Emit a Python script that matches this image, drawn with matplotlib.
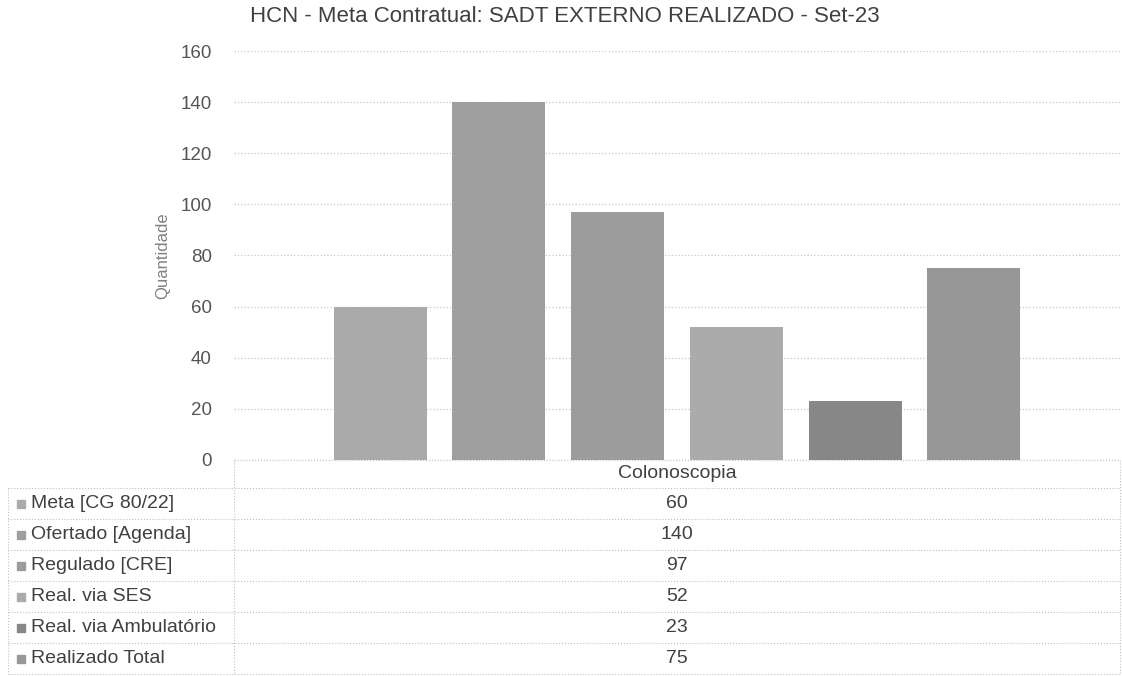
import matplotlib.pyplot as plt
import numpy as np

plt.rcParams['font.family'] = ['Liberation Sans', 'DejaVu Sans']

# dados
series = ['Meta [CG 80/22]', 'Ofertado [Agenda]', 'Regulado [CRE]',
          'Real. via SES', 'Real. via Ambulatório', 'Realizado Total']
valores = [60, 140, 97, 52, 23, 75]
categoria = 'Colonoscopia'
cores = ['#aaaaaa', '#9f9f9f', '#9c9c9c', '#ababab', '#878787', '#979797']
yticks = [0, 20, 40, 60, 80, 100, 120, 140, 160]

W, H = 1122, 676
fig = plt.figure(figsize=(W/100, H/100), dpi=100)

def fx(px):
    return px/W

def fy(py):
    return 1 - py/H

# area do grafico
x0, x1 = 234, 1120
y0, y1 = 460, 51
ax = fig.add_axes([fx(x0), fy(y0), fx(x1-x0), fy(y1)-fy(y0)])

n = len(valores)
passo = 0.134
larg = 0.105
pos = (np.arange(n) - (n-1)/2)*passo
ax.bar(pos, valores, width=larg, color=cores, zorder=2)

ax.set_xlim(-0.5, 0.5)
ax.set_ylim(0, 160)
ax.set_yticks(yticks)
ax.set_xticks([])
ax.tick_params(axis='y', length=0, pad=16, labelsize=13.5, labelcolor='#555555')
for s in ax.spines.values():
    s.set_visible(False)
ax.grid(axis='y', linestyle=':', color='#c8c8c8', linewidth=0.9, zorder=0)
ax.set_ylabel('Quantidade', fontsize=12, color='#808080')
ax.yaxis.set_label_coords(-0.072, 0.5)

fig.text(fx(565), fy(16), 'HCN - Meta Contratual: SADT EXTERNO REALIZADO - Set-23',
         ha='center', va='center', fontsize=16, color='#404040')

# tabela de dados
linha = dict(color='#c0c0c0', linewidth=0.8, linestyle=':')
topo = 460
cab = 488
alt = 31
base = cab + alt*n
xl = 8
fig.text(fx((x0+x1)/2), fy((topo+cab)/2), categoria, ha='center', va='center',
         fontsize=14, color='#404040')
fig.add_artist(plt.Line2D([fx(x0), fx(x1)], [fy(topo), fy(topo)], **linha))
fig.add_artist(plt.Line2D([fx(x0), fx(x0)], [fy(topo), fy(base)], **linha))
fig.add_artist(plt.Line2D([fx(x1), fx(x1)], [fy(topo), fy(base)], **linha))
fig.add_artist(plt.Line2D([fx(xl), fx(xl)], [fy(cab), fy(base)], **linha))
for i in range(n+1):
    yy = cab + alt*i
    fig.add_artist(plt.Line2D([fx(xl), fx(x1)], [fy(yy), fy(yy)], **linha))
for i, (s, v) in enumerate(zip(series, valores)):
    yc = cab + alt*i + alt/2
    fig.add_artist(plt.Rectangle((fx(17), fy(yc+4)), fx(8), fy(0)-fy(8),
                                 color=cores[i], transform=fig.transFigure))
    fig.text(fx(31), fy(yc), s, ha='left', va='center', fontsize=14, color='#404040')
    fig.text(fx((x0+x1)/2), fy(yc), str(v), ha='center', va='center',
             fontsize=14, color='#404040')

plt.savefig('out.png', dpi=100)
plt.close()
